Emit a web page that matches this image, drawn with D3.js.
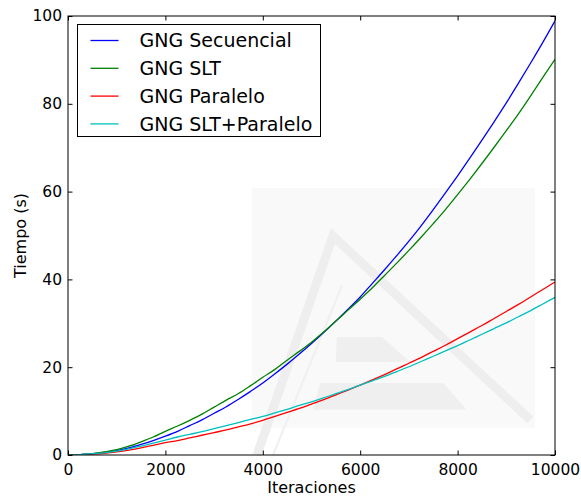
<!DOCTYPE html>
<html>
<head>
<meta charset="utf-8">
<script src="https://cdn.jsdelivr.net/npm/d3@7"></script>
<style>
  body { margin: 0; background: #fff; }
  svg { display: block; font-family: "DejaVu Sans", sans-serif; }
</style>
</head>
<body>
<div id="chart"></div>
<script>
// values
const iteraciones = [0, 250, 500, 750, 1000, 1250, 1500, 1750, 2000, 2250, 2500, 2750, 3000, 3250, 3500, 3750,
  4000, 4250, 4500, 4750, 5000, 5250, 5500, 5750, 6000, 6250, 6500, 6750, 7000, 7250, 7500, 7750,
  8000, 8250, 8500, 8750, 9000, 9250, 9500, 9750, 10000];

const secuencial = [0, 0.1, 0.3, 0.6, 1.0, 1.6, 2.4, 3.3, 4.3, 5.4, 6.7, 8.0, 9.5, 11.0, 12.7, 14.5,
  16.4, 18.5, 20.7, 23.0, 25.4, 27.9, 30.5, 33.2, 36.0, 39.1, 42.2, 45.4, 48.7, 52.2, 55.9, 59.7,
  63.6, 67.6, 71.7, 75.9, 80.2, 84.7, 89.3, 94.0, 98.9];

const slt = [0, 0.1, 0.3, 0.7, 1.2, 2.0, 3.0, 4.1, 5.4, 6.6, 7.9, 9.3, 10.9, 12.5, 14.0, 15.8,
  17.7, 19.5, 21.6, 23.6, 25.7, 28.0, 30.5, 33.0, 35.5, 38.1, 40.9, 43.7, 46.6, 49.6, 52.7, 55.9,
  59.3, 62.8, 66.4, 70.1, 73.9, 77.7, 81.8, 86.0, 90.1];

const paralelo = [0, 0.1, 0.2, 0.4, 0.7, 1.1, 1.6, 2.2, 2.8, 3.3, 3.9, 4.5, 5.1, 5.7, 6.4, 7.1,
  7.9, 8.8, 9.7, 10.6, 11.6, 12.6, 13.7, 14.8, 15.9, 17.1, 18.3, 19.6, 20.9, 22.2, 23.6, 25.0,
  26.5, 28.0, 29.5, 31.1, 32.7, 34.3, 36.0, 37.7, 39.4];

const sltParalelo = [0, 0.1, 0.3, 0.5, 0.9, 1.4, 2.0, 2.7, 3.4, 4.1, 4.7, 5.3, 6.0, 6.7, 7.4, 8.1,
  8.8, 9.6, 10.4, 11.3, 12.1, 13.0, 14.0, 14.9, 15.9, 16.9, 17.9, 19.0, 20.1, 21.3, 22.5, 23.7,
  24.9, 26.2, 27.5, 28.8, 30.1, 31.5, 32.9, 34.4, 35.9];

const seriesNames = ['GNG Secuencial', 'GNG SLT', 'GNG Paralelo', 'GNG SLT+Paralelo'];
const seriesColors = ['#0000ff', '#008000', '#ff0000', '#00bfbf'];
const xTicks = [0, 2000, 4000, 6000, 8000, 10000];
const yTicks = [0, 20, 40, 60, 80, 100];

const width = 581, height = 496;
const margin = {left: 68, right: 26, top: 16, bottom: 41};

const svg = d3.select('#chart').append('svg')
  .attr('width', width)
  .attr('height', height);

const x = d3.scaleLinear().domain([0, 10000]).range([margin.left, width - margin.right]);
const y = d3.scaleLinear().domain([0, 100]).range([height - margin.bottom, margin.top]);

// faint watermark behind the plot (given in data units)
const wmBox = [[3780, 60.8], [9590, 6.2]];
const wmTriangle = [[3880, 0], [5440, 49.9], [9490, 8.0]];
const wmThin = [[5630, 38.7], [4210, 0]];
const wmBarTop = [[5520, 26.9], [6450, 26.9], [7020, 21.2], [5500, 21.2]];
const wmBarLow = [[5180, 16.4], [7700, 16.4], [8190, 10.3], [5030, 10.3]];

const wm = svg.append('g');
wm.append('rect')
  .attr('x', x(wmBox[0][0])).attr('y', y(wmBox[0][1]))
  .attr('width', x(wmBox[1][0]) - x(wmBox[0][0]))
  .attr('height', y(wmBox[1][1]) - y(wmBox[0][1]))
  .attr('fill', '#f9f9f9');
const pt = d => [x(d[0]), y(d[1])];
wm.append('polyline')
  .attr('points', wmTriangle.map(pt).join(' '))
  .attr('fill', 'none').attr('stroke', '#eeeeee').attr('stroke-width', 9)
  .attr('stroke-linejoin', 'miter');
wm.append('polyline')
  .attr('points', wmThin.map(pt).join(' '))
  .attr('fill', 'none').attr('stroke', '#f0f0f0').attr('stroke-width', 2);
[wmBarTop, wmBarLow].forEach(p => {
  wm.append('polygon').attr('points', p.map(pt).join(' ')).attr('fill', '#efefef');
});

// lines
const allSeries = [secuencial, slt, paralelo, sltParalelo];
const line = d3.line()
  .x((d, i) => x(iteraciones[i]))
  .y(d => y(d))
  .curve(d3.curveMonotoneX);

svg.append('defs').append('clipPath').attr('id', 'clip')
  .append('rect')
  .attr('x', margin.left).attr('y', margin.top)
  .attr('width', width - margin.left - margin.right)
  .attr('height', height - margin.top - margin.bottom);

const plot = svg.append('g').attr('clip-path', 'url(#clip)');
allSeries.forEach((s, i) => {
  plot.append('path')
    .datum(s)
    .attr('d', line)
    .attr('fill', 'none')
    .attr('stroke', seriesColors[i])
    .attr('stroke-width', 1.3);
});

// frame
svg.append('rect')
  .attr('x', margin.left).attr('y', margin.top)
  .attr('width', width - margin.left - margin.right)
  .attr('height', height - margin.top - margin.bottom)
  .attr('fill', 'none').attr('stroke', '#000').attr('stroke-width', 1);

// axes, ticks pointing inward like matplotlib
const tickSize = 4.5;
const fontTick = '15.5px';

svg.append('g')
  .attr('transform', `translate(0,${y(0)})`)
  .call(d3.axisBottom(x).tickValues(xTicks).tickSize(-tickSize).tickPadding(9).tickFormat(d3.format('d')))
  .call(g => g.select('.domain').remove())
  .call(g => g.selectAll('text').attr('font-size', fontTick).attr('font-family', 'DejaVu Sans').attr('fill', '#000'));

svg.append('g')
  .attr('transform', `translate(0,${y(100)})`)
  .call(d3.axisTop(x).tickValues(xTicks).tickSize(-tickSize).tickFormat(''))
  .call(g => g.select('.domain').remove());

svg.append('g')
  .attr('transform', `translate(${x(0)},0)`)
  .call(d3.axisLeft(y).tickValues(yTicks).tickSize(-tickSize).tickPadding(6))
  .call(g => g.select('.domain').remove())
  .call(g => g.selectAll('text').attr('font-size', fontTick).attr('font-family', 'DejaVu Sans').attr('fill', '#000'));

svg.append('g')
  .attr('transform', `translate(${x(10000)},0)`)
  .call(d3.axisRight(y).tickValues(yTicks).tickSize(-tickSize).tickFormat(''))
  .call(g => g.select('.domain').remove());

svg.selectAll('.tick line').attr('stroke', '#000');

// axis labels
svg.append('text')
  .attr('x', (x(0) + x(10000)) / 2)
  .attr('y', 493)
  .attr('text-anchor', 'middle')
  .attr('font-size', '16px')
  .text('Iteraciones');

svg.append('text')
  .attr('transform', `translate(26,${(y(0) + y(100)) / 2}) rotate(-90)`)
  .attr('text-anchor', 'middle')
  .attr('font-size', '16px')
  .text('Tiempo (s)');

// legend
const legend = svg.append('g').attr('transform', 'translate(77.5,24.5)');
legend.append('rect')
  .attr('width', 243).attr('height', 112)
  .attr('fill', '#fff').attr('stroke', '#000').attr('stroke-width', 1);
seriesNames.forEach((name, i) => {
  const row = 16 + i * 27.8;
  legend.append('line')
    .attr('x1', 13).attr('x2', 41)
    .attr('y1', row).attr('y2', row)
    .attr('stroke', seriesColors[i]).attr('stroke-width', 1.3);
  legend.append('text')
    .attr('x', 62).attr('y', row)
    .attr('dy', '0.36em')
    .attr('font-size', '19px')
    .text(name);
});
</script>
</body>
</html>
